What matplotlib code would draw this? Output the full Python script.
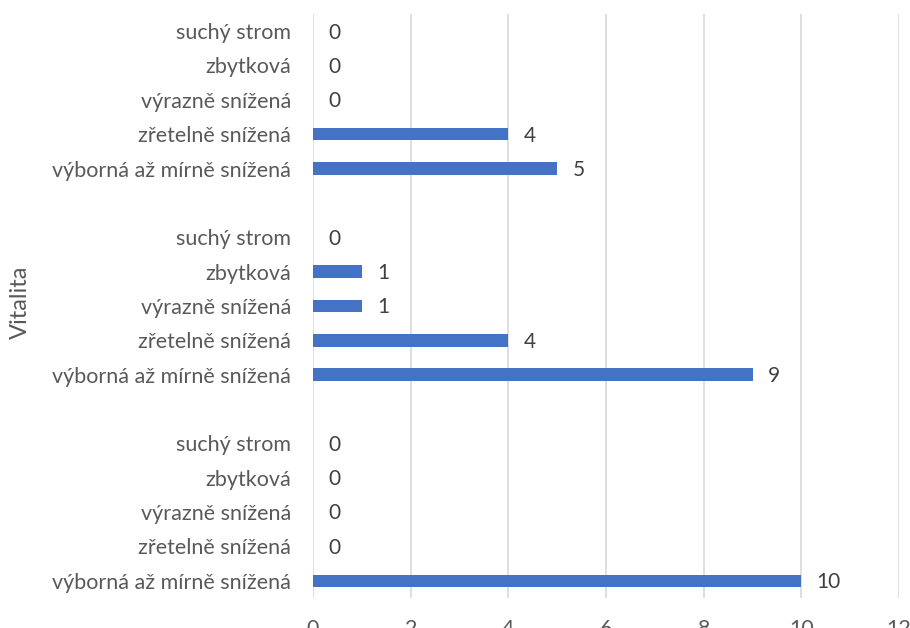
import numpy as np
import matplotlib.pyplot as plt

plt.rcParams['font.family'] = ['Lato', 'DejaVu Sans']

# categories per group, from top to bottom
categories = ['suchý strom', 'zbytková', 'výrazně snížená', 'zřetelně snížená',
              'výborná až mírně snížená']
group_top = [0, 0, 0, 4, 5]
group_mid = [0, 1, 1, 4, 9]
group_bottom = [0, 0, 0, 0, 10]
x_ticks = [0, 2, 4, 6, 8, 10, 12]

bar_color = '#4472C4'
text_color = '#595959'
value_color = '#404040'

fig = plt.figure(figsize=(9.10, 6.28), dpi=100)
ax = fig.add_axes([0.344, 0.0478, 0.644, 0.930])

labels = []
values = []
positions = []
pos = 0
for gi, grp in enumerate([group_top, group_mid, group_bottom]):
    for cat, v in zip(categories, grp):
        labels.append(cat)
        values.append(v)
        positions.append(pos)
        pos += 1
    pos += 1  # empty slot between groups

ax.barh(positions, values, height=0.36, color=bar_color, zorder=3)
for p, v in zip(positions, values):
    ax.annotate(str(v), xy=(v, p), xytext=(11, -1), textcoords='offset points',
                ha='left', va='center', fontsize=15, color=value_color)

ax.set_ylim(pos - 1 + 0.5 - 1, -0.5)
ax.set_xlim(0, 12)
ax.set_yticks(positions)
ax.set_yticklabels(labels)
ax.set_xticks(x_ticks)
ax.tick_params(axis='y', length=0, pad=16, labelsize=15.5, labelcolor=text_color)
ax.tick_params(axis='x', length=0, pad=15, labelsize=15.5, labelcolor=text_color)
ax.grid(axis='x', color='#D9D9D9', linewidth=1.2, zorder=0)
for s in ax.spines.values():
    s.set_visible(False)

fig.text(0.022, 0.519, 'Vitalita', rotation=90, ha='center', va='center',
         fontsize=17, color=text_color)

fig.savefig('out.png', dpi=100)
